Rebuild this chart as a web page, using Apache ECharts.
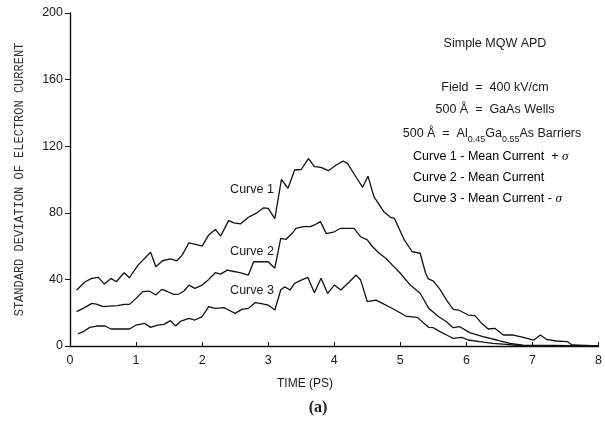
<!DOCTYPE html>
<html>
<head>
<meta charset="utf-8">
<script src="https://cdn.jsdelivr.net/npm/echarts@6/dist/echarts.min.js"></script>
<style>html,body{margin:0;padding:0;background:#fff}#c{width:605px;height:424px}</style>
</head>
<body>
<div id="c"></div>
<script>
const xTicks = [0, 1, 2, 3, 4, 5, 6, 7, 8];
const yTicks = [0, 40, 80, 120, 160, 200];

const t1 = [0.1,0.23,0.33,0.43,0.52,0.62,0.70,0.82,0.90,1.03,1.22,1.30,1.40,1.52,1.62,1.70,1.80,1.90,2.0,2.1,2.2,2.28,2.4,2.48,2.58,2.7,2.83,2.93,3.0,3.1,3.2,3.3,3.4,3.5,3.61,3.7,3.8,3.91,4.03,4.13,4.2,4.31,4.43,4.51,4.6,4.75,4.85,4.91,5.06,5.18,5.3,5.38,5.42,5.5,5.6,5.7,5.8,5.88,6.03,6.13,6.23,6.33,6.43,6.56,6.71,6.86,7.02,7.12,7.21,7.36,7.53,7.6,8.0];
const curve1 = [33.6,38.6,40.6,41.2,37.2,40.6,38.6,44,41,48.6,56.3,47.6,51.2,52.3,51.2,54.7,62,61,60,66.7,70,66,75.3,74,73.3,77.3,80,83,82.6,76.5,100,94.7,105.7,106,112.5,107.7,107.3,105.3,108.7,111,109.7,102.7,95.3,102,89.7,80.7,77.3,76.7,63.7,56.6,55.7,44,40.5,39,34,27.6,22,21.6,18.6,18.2,13.6,10.2,10.6,6.6,6.6,5.2,3.6,6.6,4.0,3.0,2.6,0.6,0];

const t2 = [0.1,0.2,0.33,0.4,0.5,0.6,0.72,0.82,0.9,1.0,1.1,1.2,1.3,1.39,1.48,1.57,1.65,1.73,1.8,1.89,2.0,2.1,2.2,2.28,2.38,2.5,2.6,2.7,2.78,2.88,3.0,3.1,3.19,3.27,3.37,3.42,3.53,3.64,3.7,3.79,3.88,4.0,4.1,4.2,4.3,4.4,4.5,4.58,4.68,4.78,4.88,5.0,5.15,5.3,5.43,5.58,5.7,5.8,5.9,6.05,6.25,6.46,6.66,6.86,8.0];
const curve2 = [20.6,22.6,25.6,25.2,23.6,24,24.2,25,25,28.6,32.6,33,30.6,34,32.6,31,31.2,33.2,36.6,34.6,36.6,40,44,43.2,45.6,44.6,43.7,42.6,50.6,50.6,50.6,46.7,64.7,64.1,68,70.7,71.7,71.7,72.7,74.7,67.5,68.6,70.7,70.7,70.7,65.6,63.7,59.6,55.7,52.7,48.6,43.7,36.6,31.7,22.6,17.6,14.6,11,11.6,8,5.6,3.6,1.6,0.5,0];

const t3 = [0.12,0.2,0.3,0.4,0.53,0.62,0.73,0.9,1.0,1.13,1.22,1.33,1.42,1.52,1.6,1.68,1.8,1.89,2.0,2.1,2.2,2.33,2.4,2.5,2.6,2.7,2.8,2.88,3.0,3.1,3.19,3.25,3.33,3.4,3.5,3.6,3.7,3.8,3.9,4.0,4.1,4.23,4.33,4.4,4.5,4.63,4.73,4.83,4.95,5.08,5.26,5.33,5.43,5.5,5.6,5.73,5.8,5.93,6.03,6.2,6.4,6.6,6.8,8.0];
const curve3 = [7.2,8.6,11.2,12,12,10.2,10.2,10.2,12.6,13.6,11.2,12.6,13,15.2,12,15,16.6,15.6,17.6,23.6,22.6,23,21.6,19.6,22,22.6,26,25.6,24.6,21.6,33.6,35.6,33.6,37.6,39.6,41.2,32,40.7,31.6,36.6,33.6,38.6,42.6,39.6,26.6,27.6,25.6,23.6,21,18,17.2,14.6,11.2,11,8.6,6,4.6,5.2,3.6,2.6,1.6,1,0.3,0];

const curveLabels = ['Curve 1', 'Curve 2', 'Curve 3'];
const notes = ['Simple MQW APD', 'Field  =  400 kV/cm', '500 Å  =  GaAs Wells'];
const legendLines = ['Curve 1 - Mean Current  + ', 'Curve 2 - Mean Current', 'Curve 3 - Mean Current - '];

function pairs(t, v) { return t.map((x, i) => [x, v[i]]); }

const chart = echarts.init(document.getElementById('c'), null, {renderer: 'canvas'});
const sans = 'Liberation Sans, Arial, sans-serif';
const lineStyle = {color: '#111', width: 1.3};

const mkSeries = (t, v) => ({
  type: 'line', data: pairs(t, v), symbol: 'none', lineStyle: lineStyle,
  animation: false
});

const textColor = '#1a1a1a';
const g = [];
g.push({type: 'text', style: {text: notes[0], font: '12.5px ' + sans, fill: textColor, textAlign: 'center', textVerticalAlign: 'middle'}, x: 495, y: 44});
g.push({type: 'text', style: {text: notes[1], font: '12.5px ' + sans, fill: textColor, textAlign: 'center', textVerticalAlign: 'middle'}, x: 495, y: 88});
g.push({type: 'text', style: {text: notes[2], font: '12.5px ' + sans, fill: textColor, textAlign: 'center', textVerticalAlign: 'middle'}, x: 495, y: 110});
g.push({type: 'text', x: 492, y: 134, style: {
  text: '{n|500 Å  =  Al}{s|0.45}{n|Ga}{s|0.55}{n|As Barriers}',
  textAlign: 'center', textVerticalAlign: 'middle', fill: textColor,
  rich: {
    n: {fontSize: 12.5, fontFamily: sans, color: textColor, lineHeight: 20, verticalAlign: 'middle'},
    s: {fontSize: 9, fontFamily: sans, color: textColor, lineHeight: 20, verticalAlign: 'bottom'}
  }
}});
const legY = [157, 178, 199];
legendLines.forEach((s, i) => {
  const sig = (i === 0 || i === 2) ? '{i|σ}' : '';
  g.push({type: 'text', x: 413, y: legY[i], style: {
    text: '{n|' + s + '}' + sig, textAlign: 'left', textVerticalAlign: 'middle',
    rich: {
      n: {fontSize: 12.5, fontFamily: sans, color: textColor},
      i: {fontSize: 13, fontFamily: 'Liberation Serif, serif', fontStyle: 'italic', color: textColor}
    }
  }});
});
const clY = [190, 252, 291];
curveLabels.forEach((s, i) => {
  g.push({type: 'text', x: 252, y: clY[i], style: {text: s, font: '12.5px ' + sans, fill: textColor, textAlign: 'center', textVerticalAlign: 'middle'}});
});
g.push({type: 'text', x: 305, y: 384, style: {text: 'TIME (PS)', font: '12px ' + sans, fill: textColor, textAlign: 'center', textVerticalAlign: 'middle'}});
g.push({type: 'text', x: 318, y: 408, style: {text: '(a)', font: 'bold 16px Liberation Serif, serif', fill: textColor, textAlign: 'center', textVerticalAlign: 'middle'}});

chart.setOption({
  backgroundColor: '#fff',
  animation: false,
  grid: {left: 70, right: 2, top: 13, bottom: 78, containLabel: false},
  xAxis: {
    type: 'value', min: xTicks[0], max: xTicks[xTicks.length - 1], interval: 1,
    axisLine: {lineStyle: {color: '#111', width: 1.4}},
    axisTick: {inside: true, length: 4, lineStyle: {color: '#111'}},
    axisLabel: {color: textColor, fontSize: 12.5, fontFamily: sans, margin: 8},
    splitLine: {show: false}
  },
  yAxis: {
    type: 'value', min: yTicks[0], max: yTicks[yTicks.length - 1], interval: 40,
    name: 'STANDARD DEVIATION OF ELECTRON CURRENT',
    nameLocation: 'middle', nameGap: 44, nameRotate: 90,
    nameTextStyle: {fontFamily: 'Liberation Mono, Courier New, monospace', fontSize: 12, color: '#333'},
    axisLine: {show: true, lineStyle: {color: '#111', width: 1.4}},
    axisTick: {show: true, length: 5, lineStyle: {color: '#111'}},
    axisLabel: {color: textColor, fontSize: 12.5, fontFamily: sans, margin: 7},
    splitLine: {show: false}
  },
  series: [mkSeries(t1, curve1), mkSeries(t2, curve2), mkSeries(t3, curve3)],
  graphic: g
});
</script>
</body>
</html>
